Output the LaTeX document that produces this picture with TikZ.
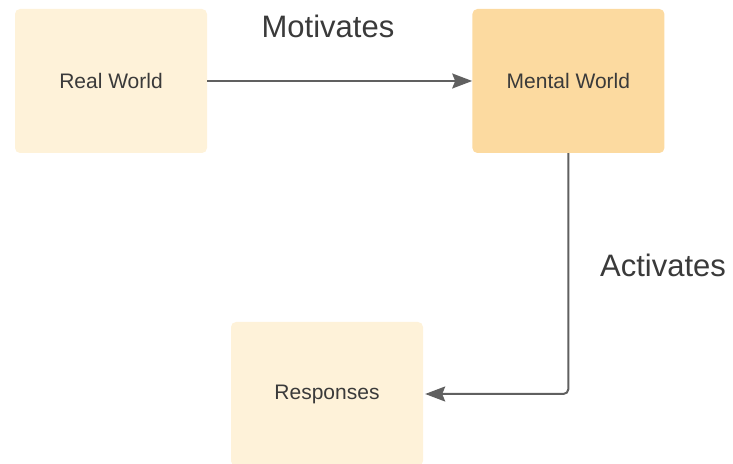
\documentclass[tikz,border=0pt]{standalone}
\usepackage{fontspec}
\setmainfont{Liberation Sans}
\usetikzlibrary{arrows.meta,positioning}

\definecolor{realfill}{HTML}{FEF2D9}
\definecolor{mentalfill}{HTML}{FCDAA0}
\definecolor{linegrey}{HTML}{606060}
\definecolor{textgrey}{HTML}{3A3A3A}

\begin{document}
\begin{tikzpicture}[x=1pt, y=1pt, >={Stealth[length=20pt,width=15pt,inset=3pt]},
    world/.style={rectangle, rounded corners=5pt, minimum width=192pt, minimum height=144pt,
                  fill=realfill, text=textgrey, font=\fontsize{21}{25}\selectfont},
    verb/.style={text=textgrey, font=\fontsize{31}{36}\selectfont},
    link/.style={->, draw=linegrey, line width=2pt, rounded corners=5pt}]
    \useasboundingbox (0,0) rectangle (733,463);

    % Nodes {real, mental, responses}
    \node [world]                      (real)      at (111,382) {Real World};
    \node [world, fill=mentalfill]     (mental)    [right=265pt of real] {Mental World};
    \node [world]                      (responses) at (327,69) {Responses};

    % Labels
    \node [verb] (motivates) at (328,437) {Motivates};
    \node [verb] (activates) at (663,198) {Activates};

    % Paths
    \path [link] (real.east) -- (mental.west);
    \path [link] (mental.south) |- ([xshift=2pt]responses.east);

\end{tikzpicture}
\end{document}
